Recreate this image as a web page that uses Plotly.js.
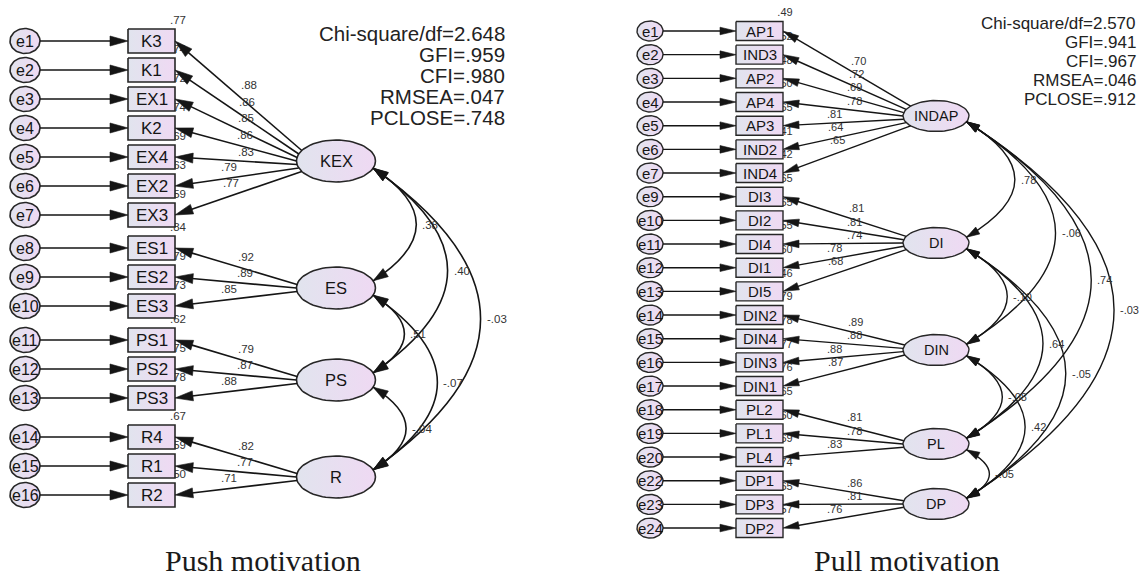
<!DOCTYPE html>
<html><head><meta charset="utf-8">
<script src="https://cdn.plot.ly/plotly-3.0.1.min.js"></script>
<style>html,body{margin:0;padding:0;background:#fff;} #chart{width:1148px;height:576px;}</style>
</head><body><div id="chart"></div>
<script>
// ---------------- DATA ----------------
// Push motivation model
const pushFactors = ['KEX', 'ES', 'PS', 'R'];
const pushGroupSizes = [7, 3, 3, 3];
const pushIndicators = ['K3','K1','EX1','K2','EX4','EX2','EX3','ES1','ES2','ES3','PS1','PS2','PS3','R4','R1','R2'];
const pushErrors = ['e1','e2','e3','e4','e5','e6','e7','e8','e9','e10','e11','e12','e13','e14','e15','e16'];
const pushLoadings = ['.88','.86','.85','.86','.83','.79','.77','.92','.89','.85','.79','.87','.88','.82','.77','.71'];
const pushR2 = ['.77','.74','.72','.74','.69','.63','.59','.84','.79','.73','.62','.75','.78','.67','.59','.50'];
const pushCorrFrom = ['KEX','KEX','KEX','ES','ES','PS'];
const pushCorrTo = ['ES','PS','R','PS','R','R'];
const pushCorrValues = ['.38','.40','-.03','.51','-.07','-.04'];
const pushFit = ['Chi-square/df=2.648','GFI=.959','CFI=.980','RMSEA=.047','PCLOSE=.748'];
const pushCaption = 'Push motivation';

// Pull motivation model
const pullFactors = ['INDAP', 'DI', 'DIN', 'PL', 'DP'];
const pullGroupSizes = [7, 5, 4, 3, 3];
const pullIndicators = ['AP1','IND3','AP2','AP4','AP3','IND2','IND4','DI3','DI2','DI4','DI1','DI5','DIN2','DIN4','DIN3','DIN1','PL2','PL1','PL4','DP1','DP3','DP2'];
const pullErrors = ['e1','e2','e3','e4','e5','e6','e7','e9','e10','e11','e12','e13','e14','e15','e16','e17','e18','e19','e20','e22','e23','e24'];
const pullLoadings = ['.70','.72','.69','.78','.81','.64','.65','.81','.81','.74','.78','.68','.89','.88','.88','.87','.81','.78','.83','.86','.81','.76'];
const pullR2 = ['.49','.52','.48','.60','.65','.41','.42','.65','.65','.55','.60','.46','.79','.78','.77','.76','.65','.60','.69','.74','.65','.57'];
const pullCorrFrom = ['INDAP','INDAP','INDAP','INDAP','DI','DI','DI','DIN','DIN','PL'];
const pullCorrTo = ['DI','DIN','PL','DP','DIN','PL','DP','PL','DP','DP'];
const pullCorrValues = ['.78','-.06','.74','-.03','-.10','.64','-.05','-.08','.42','-.05'];
const pullFit = ['Chi-square/df=2.570','GFI=.941','CFI=.967','RMSEA=.046','PCLOSE=.912'];
const pullCaption = 'Pull motivation';

// ---------------- GEOMETRY / STYLE ----------------
const FONT = 'Liberation Sans, Arial, sans-serif';
const SERIF = 'Liberation Serif, Times New Roman, serif';
const INK = '#151515';
const BOX_GRAD = [[0, '#e1e4ee'], [1, '#efd9f3']];

const pushGeom = {
  groupStartY: [41, 248, 340, 437], pitch: 29,
  eX: 25, eRx: 15, eRy: 12.5,
  boxX0: 128, boxX1: 175, boxH: 24,
  latX: 336, latRx: 39.5, latRy: 21, latY: [161, 288, 380, 477],
  spread: 3.5, lw: 1.6, headL: 18, headW: 5, arcHeadL: 15, arcHeadW: 4.8,
  arcAngle: 20, arcRatio: 0.34, corrDx: 4,
  fUp: 0.58, fDown: 0.44, off0: 9, offK: 12,
  r2dx: 3, r2dy: 8,
  boxFont: 17, latFont: 16.5, eFont: 16, smallFont: 11.5,
  fitX: 507, fitY0: 33, fitDy: 21, fitFont: 20.5,
  capX: 263, capY: 560, capFont: 30
};
const pullGeom = {
  rowY0: 31, pitch: 23.67,
  eX: 650, eRx: 13, eRy: 10,
  boxX0: 736, boxX1: 783, boxH: 19,
  latX: 936, latRx: 33, latRy: 15.5, latY: [116, 243, 350, 444, 504],
  spread: 3.3, lw: 1.4, headL: 16, headW: 3.8, arcHeadL: 13, arcHeadW: 4,
  arcAngle: 22, arcRatio: 0.38, corrDx: 4,
  fUp: 0.595, fDown: 0.43, off0: 8, offK: 12,
  r2dx: 2, r2dy: 8,
  boxFont: 15, latFont: 14.5, eFont: 15, smallFont: 11,
  fitX: 1138, fitY0: 23, fitDy: 19, fitFont: 17,
  capX: 907, capY: 560, capFont: 30
};
// pull rows are evenly spaced
(function () {
  let acc = 0; pullGeom.groupStartY = [];
  pullGroupSizes.forEach(n => { pullGeom.groupStartY.push(pullGeom.rowY0 + acc * pullGeom.pitch); acc += n; });
})();

// ---------------- HELPERS ----------------
function head(tipX, tipY, fromX, fromY, L, hw) {
  const dx = fromX - tipX, dy = fromY - tipY, len = Math.hypot(dx, dy);
  const ux = dx / len, uy = dy / len, nx = -uy, ny = ux;
  const bx = tipX + ux * L, by = tipY + uy * L;
  return { type: 'path', xref: 'x', yref: 'y', layer: 'above',
    path: `M${tipX},${tipY} L${bx + nx * hw},${by + ny * hw} L${bx - nx * hw},${by - ny * hw} Z`,
    fillcolor: INK, line: { color: INK, width: 0.6 } };
}
function seg(x0, y0, x1, y1, w) {
  return { type: 'line', xref: 'x', yref: 'y', layer: 'above', x0, y0, x1, y1, line: { color: INK, width: w } };
}
function ellipsePts(cx, cy, rx, ry, xs, ys) {
  const N = 72;
  for (let k = 0; k <= N; k++) { const a = 2 * Math.PI * k / N; xs.push(cx + rx * Math.cos(a)); ys.push(cy + ry * Math.sin(a)); }
  xs.push(null); ys.push(null);
}
function fillTrace(xs, ys, lw) {
  return { type: 'scatter', mode: 'lines', x: xs, y: ys, fill: 'toself',
    fillgradient: { type: 'horizontal', colorscale: BOX_GRAD }, fillcolor: '#e9e0f1',
    line: { color: '#262626', width: lw }, hoverinfo: 'skip', showlegend: false, connectgaps: false };
}
function ann(x, y, text, size, opts) {
  return Object.assign({ x, y, xref: 'x', yref: 'y', text, showarrow: false,
    font: { family: FONT, size, color: INK }, xanchor: 'center', yanchor: 'middle' }, opts || {});
}

function build(d, g, traces, shapes, anns) {
  const rows = [];
  d.groupSizes.forEach((n, gi) => { for (let i = 0; i < n; i++) rows.push({ y: g.groupStartY[gi] + i * g.pitch, gi, i, n }); });

  // squared multiple correlations (drawn beneath boxes)
  traces.push({ type: 'scatter', mode: 'text', x: rows.map(() => g.boxX1 + g.r2dx), y: rows.map(r => r.y - g.boxH / 2 - g.r2dy),
    text: d.r2, textfont: { family: FONT, size: g.smallFont, color: '#333' }, hoverinfo: 'skip', showlegend: false, cliponaxis: false });

  // boxes
  const bx = [], by = [];
  rows.forEach(r => { const t = r.y - g.boxH / 2, b = r.y + g.boxH / 2;
    bx.push(g.boxX0, g.boxX1, g.boxX1, g.boxX0, g.boxX0, null); by.push(t, t, b, b, t, null); });
  traces.push(fillTrace(bx, by, g.lw));
  // error circles
  const ex = [], ey = [];
  rows.forEach(r => ellipsePts(g.eX, r.y, g.eRx, g.eRy, ex, ey));
  traces.push(fillTrace(ex, ey, g.lw));
  // latent ellipses
  const lx = [], ly = [];
  g.latY.forEach(y => ellipsePts(g.latX, y, g.latRx, g.latRy, lx, ly));
  traces.push(fillTrace(lx, ly, g.lw));

  rows.forEach((r, k) => {
    // error -> indicator
    const x0 = g.eX + g.eRx;
    shapes.push(seg(x0, r.y, g.boxX0 - g.headL + 1, r.y, g.lw));
    shapes.push(head(g.boxX0, r.y, x0, r.y, g.headL, g.headW));
    // factor -> indicator
    const cy = g.latY[r.gi];
    const dy = (r.i - (r.n - 1) / 2) * g.spread;
    const sy = cy + dy;
    const sx = g.latX - g.latRx * Math.sqrt(1 - (dy / g.latRy) ** 2);
    const ex1 = g.boxX1;
    const len = Math.hypot(sx - ex1, sy - r.y);
    const ux = (sx - ex1) / len, uy = (sy - r.y) / len;
    shapes.push(seg(sx, sy, ex1 + ux * (g.headL - 1), r.y + uy * (g.headL - 1), g.lw));
    shapes.push(head(ex1, r.y, sx, sy, g.headL, g.headW));
    // loading label
    const f = (r.y < sy + 1.5) ? g.fUp : g.fDown;
    const slope = Math.abs((sy - r.y) / (sx - ex1));
    const lxp = ex1 + f * (sx - ex1);
    const lyp = r.y + f * (sy - r.y) - (g.off0 + g.offK * slope);
    anns.push(ann(lxp, lyp, d.loadings[k], g.smallFont, { font: { family: FONT, size: g.smallFont, color: '#333' } }));
    // names
    anns.push(ann((g.boxX0 + g.boxX1) / 2, r.y, d.indicators[k], g.boxFont));
    anns.push(ann(g.eX, r.y, d.errors[k], g.eFont));
  });

  // factor names
  d.factors.forEach((name, i) => anns.push(ann(g.latX, g.latY[i], name, g.latFont)));

  // correlations
  const a = g.arcAngle * Math.PI / 180;
  const px = g.latX + g.latRx * Math.cos(a), pyo = g.latRy * Math.sin(a);
  d.corrFrom.forEach((from, k) => {
    const ia = d.factors.indexOf(from), ib = d.factors.indexOf(d.corrTo[k]);
    const up = Math.min(ia, ib), lo = Math.max(ia, ib);
    const y0 = g.latY[up] + pyo, y2 = g.latY[lo] - pyo;
    const bulge = g.arcRatio * (g.latY[lo] - g.latY[up]);
    const cx = px + 2 * bulge, cy = (y0 + y2) / 2;
    shapes.push({ type: 'path', xref: 'x', yref: 'y', layer: 'above', path: `M${px},${y0} Q${cx},${cy} ${px},${y2}`,
      fillcolor: 'rgba(0,0,0,0)', line: { color: INK, width: g.lw } });
    shapes.push(head(px, y0, cx, cy, g.arcHeadL, g.arcHeadW));
    shapes.push(head(px, y2, cx, cy, g.arcHeadL, g.arcHeadW));
    anns.push(ann(px + bulge + g.corrDx, cy, d.corrValues[k], g.smallFont, { xanchor: 'left', font: { family: FONT, size: g.smallFont, color: '#333' } }));
  });

  // fit statistics
  d.fit.forEach((t, i) => anns.push(ann(g.fitX, g.fitY0 + i * g.fitDy, t, g.fitFont, { xanchor: 'right', font: { family: FONT, size: g.fitFont, color: '#222' } })));
  // caption
  anns.push(ann(g.capX, g.capY, d.caption, g.capFont, { font: { family: SERIF, size: g.capFont, color: '#1a1a1a' } }));
}

const traces = [], shapes = [], anns = [];
build({ factors: pushFactors, groupSizes: pushGroupSizes, indicators: pushIndicators, errors: pushErrors, loadings: pushLoadings,
  r2: pushR2, corrFrom: pushCorrFrom, corrTo: pushCorrTo, corrValues: pushCorrValues, fit: pushFit, caption: pushCaption }, pushGeom, traces, shapes, anns);
build({ factors: pullFactors, groupSizes: pullGroupSizes, indicators: pullIndicators, errors: pullErrors, loadings: pullLoadings,
  r2: pullR2, corrFrom: pullCorrFrom, corrTo: pullCorrTo, corrValues: pullCorrValues, fit: pullFit, caption: pullCaption }, pullGeom, traces, shapes, anns);

const layout = {
  width: 1148, height: 576, autosize: false,
  margin: { l: 0, r: 0, t: 0, b: 0 },
  paper_bgcolor: '#ffffff', plot_bgcolor: '#ffffff',
  xaxis: { range: [0, 1148], visible: false, fixedrange: true },
  yaxis: { range: [576, 0], visible: false, fixedrange: true },
  showlegend: false, shapes, annotations: anns, hovermode: false
};
Plotly.newPlot('chart', traces, layout, { displayModeBar: false, staticPlot: true });
</script>
</body></html>
